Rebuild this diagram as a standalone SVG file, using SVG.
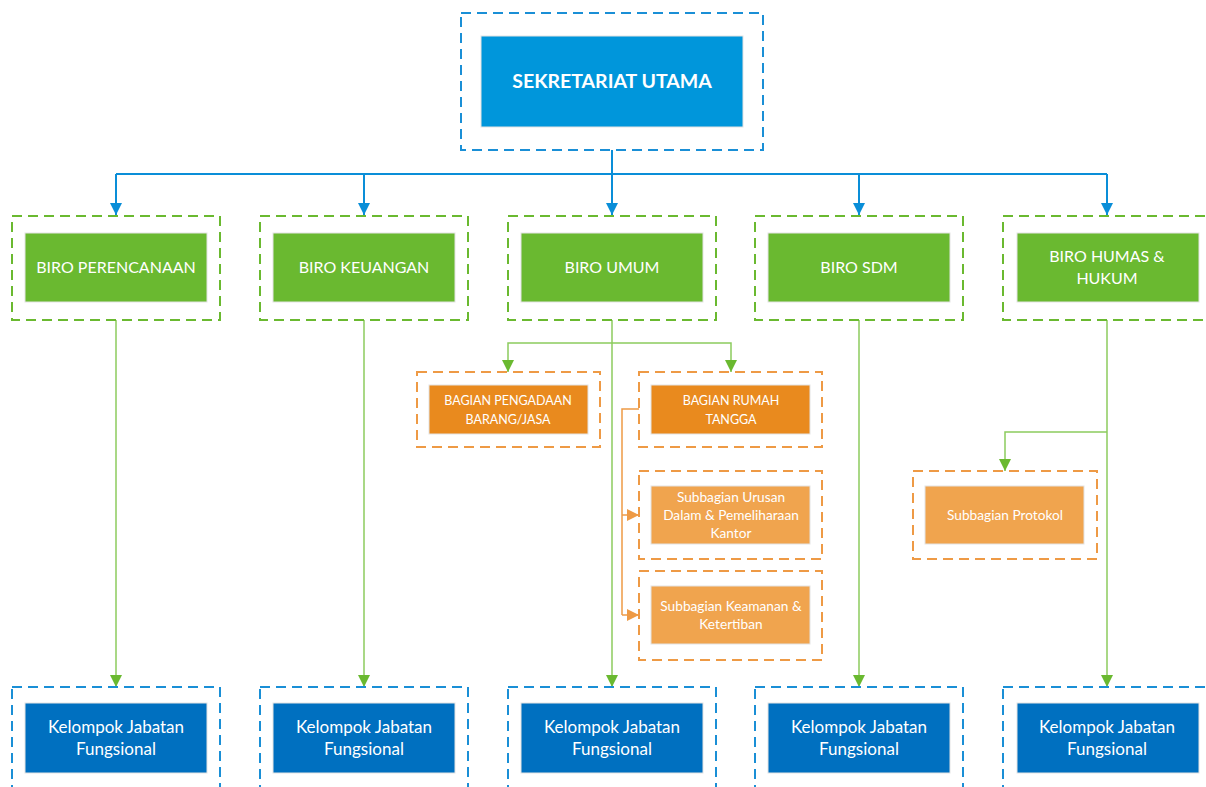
<svg xmlns="http://www.w3.org/2000/svg" width="1206" height="787" viewBox="0 0 1206 787">
<defs>
<style>
.ob{fill:none;stroke-width:2;stroke-dasharray:10 6}
.obb{stroke:#1a8fd6}
.obg{stroke:#6ab930}
.obo{stroke:#ee9a45}
.ib{stroke:#e3e3e3;stroke-width:1}
.top{fill:#0096db}
.grn{fill:#6ab930}
.blu{fill:#0070c0}
.org{fill:#e98a1e}
.lor{fill:#f0a44e}
text{font-family:Lato,"Open Sans","Liberation Sans",sans-serif;fill:#fff;text-anchor:middle}
.t1{font-size:19.5px;font-weight:bold}
.t2{font-size:16px}
.t5{font-size:17px}
.t3{font-size:12.5px}
.t4{font-size:13.7px}
.cb{fill:none;stroke:#0a8ed8;stroke-width:2}
.cg{fill:none;stroke:#8ccb5e;stroke-width:1.5}
.co{fill:none;stroke:#ee9a45;stroke-width:1.5}
</style>
<marker id="ab" viewBox="0 0 10 10" refX="10" refY="5" markerWidth="12" markerHeight="12" markerUnits="userSpaceOnUse" orient="auto"><path d="M0,0 L10,5 L0,10 z" fill="#0a8ed8"/></marker>
<marker id="ag" viewBox="0 0 10 10" refX="10" refY="5" markerWidth="12" markerHeight="12" markerUnits="userSpaceOnUse" orient="auto"><path d="M0,0 L10,5 L0,10 z" fill="#6ab930"/></marker>
<marker id="ao" viewBox="0 0 10 10" refX="10" refY="5" markerWidth="12" markerHeight="12" markerUnits="userSpaceOnUse" orient="auto"><path d="M0,0 L10,5 L0,10 z" fill="#ee9a45"/></marker>
</defs>
<rect width="1206" height="787" fill="#fff"/>

<g id="connectors">
<path class="cb" d="M612,150 V174"/>
<path class="cb" d="M116,174 H1107"/>
<path class="cb" d="M116,174 V215" marker-end="url(#ab)"/>
<path class="cb" d="M364,174 V215" marker-end="url(#ab)"/>
<path class="cb" d="M612,174 V215" marker-end="url(#ab)"/>
<path class="cb" d="M859,174 V215" marker-end="url(#ab)"/>
<path class="cb" d="M1107,174 V215" marker-end="url(#ab)"/>
<path class="cg" d="M116,320 V687" marker-end="url(#ag)"/>
<path class="cg" d="M364,320 V687" marker-end="url(#ag)"/>
<path class="cg" d="M612,320 V687" marker-end="url(#ag)"/>
<path class="cg" d="M859,320 V687" marker-end="url(#ag)"/>
<path class="cg" d="M1107,320 V687" marker-end="url(#ag)"/>
<path class="cg" d="M612,343 H508 V372" marker-end="url(#ag)"/>
<path class="cg" d="M612,343 H731 V372" marker-end="url(#ag)"/>
<path class="cg" d="M1107,432 H1005 V471" marker-end="url(#ag)"/>
<path class="co" d="M639,409 H622 V615"/>
<path class="co" d="M622,515 H639" marker-end="url(#ao)"/>
<path class="co" d="M622,615 H639" marker-end="url(#ao)"/>
</g>

<g id="sekretariat-utama">
<rect class="ob obb" x="461" y="13" width="302" height="137"/>
<rect class="top ib" x="481" y="36" width="262" height="91"/>
<text class="t1" x="612" y="88">SEKRETARIAT UTAMA</text>
</g>

<g id="biro-perencanaan">
<rect class="ob obg" x="12" y="216" width="208" height="104"/>
<rect class="grn ib" x="25" y="233" width="182" height="69"/>
<text class="t2" x="116" y="273">BIRO PERENCANAAN</text>
</g>
<g id="biro-keuangan">
<rect class="ob obg" x="260" y="216" width="208" height="104"/>
<rect class="grn ib" x="273" y="233" width="182" height="69"/>
<text class="t2" x="364" y="273">BIRO KEUANGAN</text>
</g>
<g id="biro-umum">
<rect class="ob obg" x="508" y="216" width="208" height="104"/>
<rect class="grn ib" x="521" y="233" width="182" height="69"/>
<text class="t2" x="612" y="273">BIRO UMUM</text>
</g>
<g id="biro-sdm">
<rect class="ob obg" x="755" y="216" width="208" height="104"/>
<rect class="grn ib" x="768" y="233" width="182" height="69"/>
<text class="t2" x="859" y="273">BIRO SDM</text>
</g>
<g id="biro-humas-hukum">
<rect class="ob obg" x="1003" y="216" width="208" height="104"/>
<rect class="grn ib" x="1017" y="233" width="182" height="69"/>
<text class="t2" x="1107" y="262">BIRO HUMAS &amp;</text>
<text class="t2" x="1107" y="284">HUKUM</text>
</g>

<g id="bagian-pengadaan">
<rect class="ob obo" x="417" y="372" width="183" height="75"/>
<rect class="org ib" x="429" y="385" width="159" height="49"/>
<text class="t3" x="508" y="405">BAGIAN PENGADAAN</text>
<text class="t3" x="508" y="424">BARANG/JASA</text>
</g>
<g id="bagian-rumah-tangga">
<rect class="ob obo" x="639" y="372" width="183" height="75"/>
<rect class="org ib" x="651" y="385" width="159" height="49"/>
<text class="t3" x="731" y="405">BAGIAN RUMAH</text>
<text class="t3" x="731" y="424">TANGGA</text>
</g>
<g id="subbagian-urusan-dalam">
<rect class="ob obo" x="639" y="471" width="183" height="88"/>
<rect class="lor ib" x="651" y="486" width="159" height="58"/>
<text class="t4" x="731" y="502">Subbagian Urusan</text>
<text class="t4" x="731" y="520">Dalam &amp; Pemeliharaan</text>
<text class="t4" x="731" y="538">Kantor</text>
</g>
<g id="subbagian-keamanan">
<rect class="ob obo" x="639" y="571" width="183" height="89"/>
<rect class="lor ib" x="651" y="586" width="159" height="58"/>
<text class="t4" x="731" y="611">Subbagian Keamanan &amp;</text>
<text class="t4" x="731" y="629">Ketertiban</text>
</g>
<g id="subbagian-protokol">
<rect class="ob obo" x="913" y="471" width="184" height="88"/>
<rect class="lor ib" x="925" y="486" width="159" height="58"/>
<text class="t4" x="1005" y="520">Subbagian Protokol</text>
</g>

<g id="jf-1">
<rect class="ob obb" x="12" y="687" width="208" height="110"/>
<rect class="blu ib" x="25" y="703" width="182" height="70"/>
<text class="t5" x="116" y="733">Kelompok Jabatan</text>
<text class="t5" x="116" y="755">Fungsional</text>
</g>
<g id="jf-2">
<rect class="ob obb" x="260" y="687" width="208" height="110"/>
<rect class="blu ib" x="273" y="703" width="182" height="70"/>
<text class="t5" x="364" y="733">Kelompok Jabatan</text>
<text class="t5" x="364" y="755">Fungsional</text>
</g>
<g id="jf-3">
<rect class="ob obb" x="508" y="687" width="208" height="110"/>
<rect class="blu ib" x="521" y="703" width="182" height="70"/>
<text class="t5" x="612" y="733">Kelompok Jabatan</text>
<text class="t5" x="612" y="755">Fungsional</text>
</g>
<g id="jf-4">
<rect class="ob obb" x="755" y="687" width="208" height="110"/>
<rect class="blu ib" x="768" y="703" width="182" height="70"/>
<text class="t5" x="859" y="733">Kelompok Jabatan</text>
<text class="t5" x="859" y="755">Fungsional</text>
</g>
<g id="jf-5">
<rect class="ob obb" x="1003" y="687" width="208" height="110"/>
<rect class="blu ib" x="1017" y="703" width="182" height="70"/>
<text class="t5" x="1107" y="733">Kelompok Jabatan</text>
<text class="t5" x="1107" y="755">Fungsional</text>
</g>
</svg>
